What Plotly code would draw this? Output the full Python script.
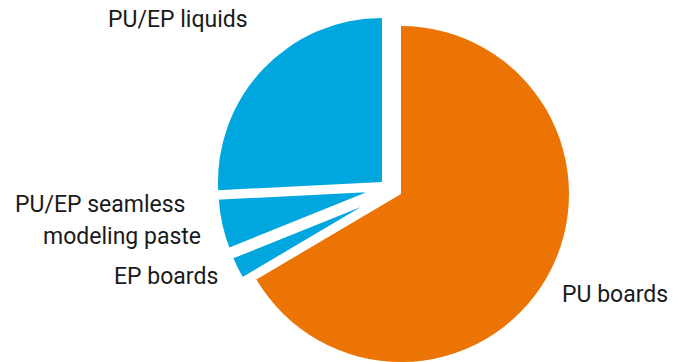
import plotly.graph_objects as go

# Market segments, listed clockwise from 12 o'clock
segments = ["PU boards", "EP boards", "PU/EP seamless modeling paste", "PU/EP liquids"]
shares = [66.5, 2.4, 5.3, 25.8]
colors = ["#EC7404", "#00A7DF", "#00A7DF", "#00A7DF"]

# Exploded layout: each wedge gets its own centre (px), radius (px) and white edge
W, H = 673, 362
wedge_centres = [(401, 194), (379, 198), (381, 189), (382, 182)]
wedge_radii = [168, 159, 165, 164]
wedge_edges = [0, 3, 5, 0]

fig = go.Figure()
for i, (seg, col) in enumerate(zip(segments, colors)):
    cx, cy = wedge_centres[i]
    r = wedge_radii[i]
    slice_colors = ["rgba(0,0,0,0)"] * len(segments)
    slice_colors[i] = col
    edge_widths = [0] * len(segments)
    edge_widths[i] = wedge_edges[i]
    fig.add_trace(go.Pie(
        labels=segments,
        values=shares,
        sort=False,
        direction="clockwise",
        rotation=0,
        marker=dict(colors=slice_colors, line=dict(width=edge_widths, color="white")),
        textinfo="none",
        hoverinfo="skip",
        showlegend=False,
        domain=dict(
            x=[(cx - r) / W, (cx + r) / W],
            y=[(H - cy - r) / H, (H - cy + r) / H],
        ),
    ))

label_font = dict(family="Roboto", size=23, color="#1a1a1a")
labels = [
    ("PU/EP liquids", 178, 20),
    ("PU/EP seamless", 100, 204),
    ("modeling paste", 122, 236),
    ("EP boards", 166, 276),
    ("PU boards", 615, 294),
]
for text, x, y in labels:
    fig.add_annotation(
        text=text, x=x / W, y=1 - y / H, xref="paper", yref="paper",
        xanchor="center", yanchor="middle", showarrow=False, font=label_font,
    )

fig.update_layout(
    width=W, height=H,
    margin=dict(l=0, r=0, t=0, b=0),
    paper_bgcolor="white", plot_bgcolor="white",
)
fig.write_html("out.html")
